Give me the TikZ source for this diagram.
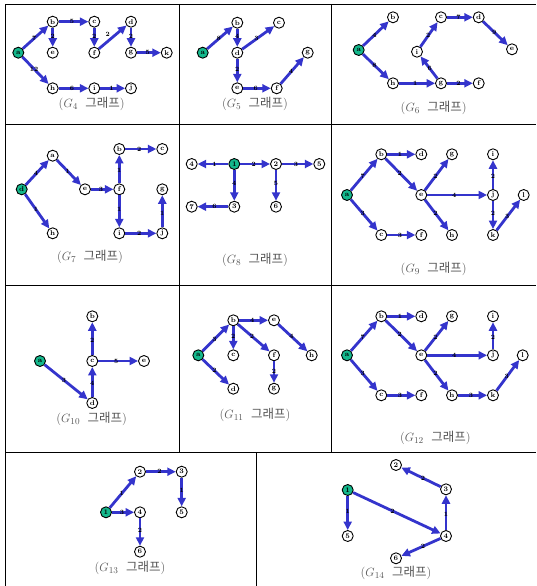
\documentclass[tikz,border=0pt]{standalone}
\usepackage{fontspec}
\newfontfamily\krfont{Noto Sans CJK KR}
\usetikzlibrary{arrows.meta}
\definecolor{edgeblue}{RGB}{52,52,204}
\definecolor{srcteal}{RGB}{20,184,140}
\definecolor{capgray}{RGB}{85,85,85}
\tikzset{
  vtx/.style={circle, draw=black, line width=0.9pt, fill=white, minimum size=11pt, inner sep=0pt, font=\fontsize{7}{7}\selectfont\bfseries},
  src/.style={vtx, fill=srcteal},
  arc/.style={draw=edgeblue, line width=2.8pt, -{Triangle[length=8.5pt,width=8pt]}},
  wt/.style={font=\fontsize{6.5}{6.5}\selectfont\bfseries, inner sep=0pt, pos=0.45},
  gcaption/.style={font=\fontsize{12.5}{14}\selectfont, text=capgray},
  tbl/.style={line width=0.8pt, black}
}
\newcommand{\gcap}[1]{($G_{#1}$\hspace{0.6em}{\krfont 그래프})}
\begin{document}
\begin{tikzpicture}[x=1pt,y=-1pt]
\useasboundingbox (0,0) rectangle (536,586);
% table
\draw[tbl] (5.5,586) -- (5.5,4) -- (536,4);
\draw[tbl] (5.5,124) -- (536,124);
\draw[tbl] (5.5,285.5) -- (536,285.5);
\draw[tbl] (5.5,452.5) -- (536,452.5);
\draw[tbl] (179.3,4) -- (179.3,452.5);
\draw[tbl] (331.5,4) -- (331.5,452.5);
\draw[tbl] (256,452.5) -- (256,586);

% ---------- G4 ----------
\node[src] (g4a) at (18.3,52.7) {a};
\node[vtx] (g4b) at (52.7,21.7) {b};
\node[vtx] (g4c) at (94.3,21.7) {c};
\node[vtx] (g4d) at (131,21.7) {d};
\node[vtx] (g4e) at (52.7,52.7) {e};
\node[vtx] (g4f) at (94.3,52.7) {f};
\node[vtx] (g4g) at (131,52.7) {g};
\node[vtx] (g4k) at (166.7,52.7) {k};
\node[vtx] (g4h) at (52.7,88.3) {h};
\node[vtx] (g4i) at (94.3,88.3) {i};
\node[vtx] (g4j) at (131,88.3) {j};
\draw[arc] (g4a) -- node[wt]{7} (g4b);
\draw[arc] (g4b) -- node[wt]{5} (g4c);
\draw[arc] (g4b) -- node[wt]{2} (g4e);
\draw[arc] (g4c) -- node[wt]{2} (g4f);
\draw[arc] (g4f) -- node[wt,above left=0pt]{2} (g4d);
\draw[arc] (g4d) -- node[wt]{2} (g4g);
\draw[arc] (g4g) -- node[wt]{5} (g4k);
\draw[arc] (g4a) -- node[wt]{12} (g4h);
\draw[arc] (g4h) -- node[wt]{6} (g4i);
\draw[arc] (g4i) -- node[wt]{1} (g4j);
\node[gcaption] (c4) at (91.7,104) {\gcap{4}};

% ---------- G5 ----------
\node[src] (g5a) at (202.7,52.7) {a};
\node[vtx] (g5b) at (237.3,22.7) {b};
\node[vtx] (g5c) at (279,22.7) {c};
\node[vtx] (g5d) at (237.3,52.7) {d};
\node[vtx] (g5e) at (237.3,88.3) {e};
\node[vtx] (g5f) at (276.7,88.3) {f};
\node[vtx] (g5g) at (307.7,52.7) {g};
\draw[arc] (g5a) -- node[wt]{8} (g5b);
\draw[arc] (g5b) -- node[wt]{4} (g5d);
\draw[arc] (g5d) -- node[wt]{3} (g5c);
\draw[arc] (g5d) -- node[wt]{2} (g5e);
\draw[arc] (g5e) -- node[wt]{6} (g5f);
\draw[arc] (g5f) -- node[wt]{4} (g5g);
\node[gcaption] (c5) at (255,104) {\gcap{5}};

% ---------- G6 ----------
\node[src] (g6a) at (358.7,50) {a};
\node[vtx] (g6b) at (393,17.3) {b};
\node[vtx] (g6h) at (393,83.3) {h};
\node[vtx] (g6g) at (441,83.3) {g};
\node[vtx] (g6f) at (478.7,83.3) {f};
\node[vtx] (g6i) at (417,51.7) {i};
\node[vtx] (g6c) at (441,17.3) {c};
\node[vtx] (g6d) at (478.7,17.3) {d};
\node[vtx] (g6e) at (512,49.3) {e};
\draw[arc] (g6a) -- node[wt]{4} (g6b);
\draw[arc] (g6a) -- node[wt]{8} (g6h);
\draw[arc] (g6h) -- node[wt]{1} (g6g);
\draw[arc] (g6g) -- node[wt]{2} (g6f);
\draw[arc] (g6g) -- node[wt]{6} (g6i);
\draw[arc] (g6i) -- node[wt]{2} (g6c);
\draw[arc] (g6c) -- node[wt]{7} (g6d);
\draw[arc] (g6d) -- node[wt]{9} (g6e);
\node[gcaption] (c6) at (433.7,108.3) {\gcap{6}};

% ---------- G7 ----------
\node[src] (g7d) at (21.7,189.3) {d};
\node[vtx] (g7a) at (52.7,155.7) {a};
\node[vtx] (g7h) at (52.7,233.3) {h};
\node[vtx] (g7e) at (85,189.3) {e};
\node[vtx] (g7f) at (119.3,189.3) {f};
\node[vtx] (g7b) at (119.3,149) {b};
\node[vtx] (g7c) at (162.3,149) {c};
\node[vtx] (g7g) at (162.3,189.3) {g};
\node[vtx] (g7i) at (119.3,233.3) {i};
\node[vtx] (g7j) at (162.3,233.3) {j};
\draw[arc] (g7d) -- node[wt]{4} (g7a);
\draw[arc] (g7d) -- node[wt]{1} (g7h);
\draw[arc] (g7a) -- node[wt]{1} (g7e);
\draw[arc] (g7e) -- node[wt]{3} (g7f);
\draw[arc] (g7f) -- node[wt]{1} (g7b);
\draw[arc] (g7b) -- node[wt]{2} (g7c);
\draw[arc] (g7f) -- node[wt]{1} (g7i);
\draw[arc] (g7i) -- node[wt]{2} (g7j);
\draw[arc] (g7j) -- node[wt]{1} (g7g);
\node[gcaption] (c7) at (90,257.3) {\gcap{7}};

% ---------- G8 ----------
\node[vtx] (g8n4) at (191.7,164) {4};
\node[src] (g8n1) at (234.3,164) {1};
\node[vtx] (g8n2) at (276,164) {2};
\node[vtx] (g8n5) at (319.3,164) {5};
\node[vtx] (g8n7) at (191.7,206.7) {7};
\node[vtx] (g8n3) at (234.3,206.7) {3};
\node[vtx] (g8n6) at (276,206.7) {6};
\draw[arc] (g8n1) -- node[wt]{1} (g8n4);
\draw[arc] (g8n1) -- node[wt]{2} (g8n2);
\draw[arc] (g8n2) -- node[wt]{3} (g8n5);
\draw[arc] (g8n1) -- node[wt]{4} (g8n3);
\draw[arc] (g8n2) -- node[wt]{5} (g8n6);
\draw[arc] (g8n3) -- node[wt]{6} (g8n7);
\node[gcaption] (c8) at (255,260) {\gcap{8}};

% ---------- G9 ----------
\node[src] (g9a) at (347,195) {a};
\node[vtx] (g9b) at (381.3,154.3) {b};
\node[vtx] (g9d) at (421.3,154.3) {d};
\node[vtx] (g9c) at (381.3,235) {c};
\node[vtx] (g9f) at (421.3,235) {f};
\node[vtx] (g9e) at (421.3,195) {e};
\node[vtx] (g9g) at (452,154.3) {g};
\node[vtx] (g9h) at (452,235) {h};
\node[vtx] (g9j) at (493,195) {j};
\node[vtx] (g9i) at (493,154.3) {i};
\node[vtx] (g9k) at (493,235) {k};
\node[vtx] (g9l) at (523.7,195) {l};
\draw[arc] (g9a) -- node[wt]{7} (g9b);
\draw[arc] (g9a) -- node[wt]{3} (g9c);
\draw[arc] (g9b) -- node[wt]{1} (g9d);
\draw[arc] (g9b) -- node[wt]{2} (g9e);
\draw[arc] (g9c) -- node[wt]{3} (g9f);
\draw[arc] (g9e) -- node[wt]{2} (g9g);
\draw[arc] (g9e) -- node[wt]{4} (g9j);
\draw[arc] (g9e) -- node[wt]{2} (g9h);
\draw[arc] (g9j) -- node[wt]{2} (g9i);
\draw[arc] (g9j) -- node[wt]{2} (g9k);
\draw[arc] (g9k) -- node[wt]{3} (g9l);
\node[gcaption] (c9) at (433.7,269) {\gcap{9}};

% ---------- G10 ----------
\node[src] (g10a) at (40,361) {a};
\node[vtx] (g10b) at (92.3,316.3) {b};
\node[vtx] (g10c) at (92.3,361) {c};
\node[vtx] (g10e) at (144,361) {e};
\node[vtx] (g10d) at (92.3,403) {d};
\draw[arc] (g10a) -- node[wt]{3} (g10d);
\draw[arc] (g10d) -- node[wt]{4} (g10c);
\draw[arc] (g10c) -- node[wt]{2} (g10b);
\draw[arc] (g10c) -- node[wt]{5} (g10e);
\node[gcaption] (c10) at (91.7,418.7) {\gcap{10}};

% ---------- G11 ----------
\node[src] (g11a) at (198.3,355.3) {a};
\node[vtx] (g11b) at (233.3,320.3) {b};
\node[vtx] (g11e) at (274,320.3) {e};
\node[vtx] (g11c) at (233.3,355.3) {c};
\node[vtx] (g11f) at (274,355.3) {f};
\node[vtx] (g11h) at (311.7,355.3) {h};
\node[vtx] (g11d) at (233.3,388.7) {d};
\node[vtx] (g11g) at (274,388.7) {g};
\draw[arc] (g11a) -- node[wt]{3} (g11b);
\draw[arc] (g11a) -- node[wt]{2} (g11d);
\draw[arc] (g11b) -- node[wt]{4} (g11e);
\draw[arc] (g11b) -- node[wt]{2} (g11c);
\draw[arc] (g11b) -- node[wt]{2} (g11f);
\draw[arc] (g11e) -- node[wt]{4} (g11h);
\draw[arc] (g11f) -- node[wt]{2} (g11g);
\node[gcaption] (c11) at (255,415.3) {\gcap{11}};

% ---------- G12 ----------
\node[src] (g12a) at (347,355.3) {a};
\node[vtx] (g12b) at (381.3,316.3) {b};
\node[vtx] (g12d) at (421.3,316.3) {d};
\node[vtx] (g12c) at (381.3,395.3) {c};
\node[vtx] (g12f) at (421.3,395.3) {f};
\node[vtx] (g12e) at (421.3,355.3) {e};
\node[vtx] (g12g) at (452,316.3) {g};
\node[vtx] (g12h) at (452,395.3) {h};
\node[vtx] (g12k) at (493,395.3) {k};
\node[vtx] (g12j) at (493,355.3) {j};
\node[vtx] (g12i) at (493,316.3) {i};
\node[vtx] (g12l) at (522.7,355.3) {l};
\draw[arc] (g12a) -- node[wt]{7} (g12b);
\draw[arc] (g12a) -- node[wt]{3} (g12c);
\draw[arc] (g12b) -- node[wt]{1} (g12d);
\draw[arc] (g12b) -- node[wt]{2} (g12e);
\draw[arc] (g12c) -- node[wt]{3} (g12f);
\draw[arc] (g12e) -- node[wt]{2} (g12g);
\draw[arc] (g12e) -- node[wt]{4} (g12j);
\draw[arc] (g12e) -- node[wt]{2} (g12h);
\draw[arc] (g12h) -- node[wt]{3} (g12k);
\draw[arc] (g12j) -- node[wt]{2} (g12i);
\draw[arc] (g12k) -- node[wt]{3} (g12l);
\node[gcaption] (c12) at (435.3,437.7) {\gcap{12}};

% ---------- G13 ----------
\node[src] (g13n1) at (106,512.3) {1};
\node[vtx] (g13n2) at (140,471.7) {2};
\node[vtx] (g13n3) at (181.7,471.7) {3};
\node[vtx] (g13n4) at (140,512.3) {4};
\node[vtx] (g13n5) at (181.7,512.3) {5};
\node[vtx] (g13n6) at (140,551.7) {6};
\draw[arc] (g13n1) -- node[wt]{1} (g13n2);
\draw[arc] (g13n2) -- node[wt]{2} (g13n3);
\draw[arc] (g13n3) -- node[wt]{1} (g13n5);
\draw[arc] (g13n1) -- node[wt]{3} (g13n4);
\draw[arc] (g13n4) -- node[wt]{2} (g13n6);
\node[gcaption] (c13) at (130,568.3) {\gcap{13}};

% ---------- G14 ----------
\node[src] (g14n1) at (347.7,490) {1};
\node[vtx] (g14n2) at (396,465) {2};
\node[vtx] (g14n3) at (446,489.3) {3};
\node[vtx] (g14n4) at (446,536) {4};
\node[vtx] (g14n5) at (347.7,536) {5};
\node[vtx] (g14n6) at (396,558.3) {6};
\draw[arc] (g14n1) -- node[wt]{1} (g14n5);
\draw[arc] (g14n1) -- node[wt]{2} (g14n4);
\draw[arc] (g14n4) -- node[wt]{1} (g14n3);
\draw[arc] (g14n3) -- node[wt]{2} (g14n2);
\draw[arc] (g14n4) -- node[wt]{2} (g14n6);
\node[gcaption] (c14) at (396,573.3) {\gcap{14}};
\end{tikzpicture}
\end{document}
